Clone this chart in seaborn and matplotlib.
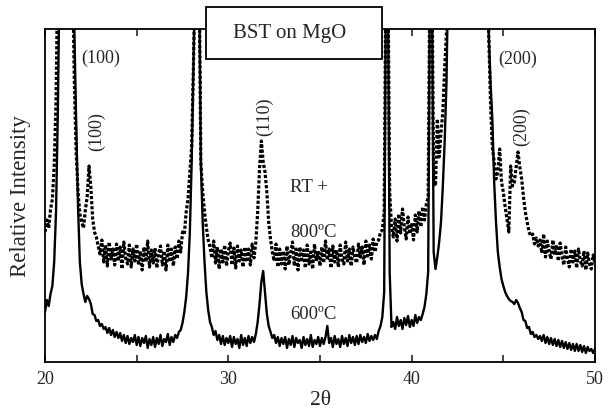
import numpy as np
import pandas as pd
import matplotlib
matplotlib.use("Agg")
import matplotlib.pyplot as plt
from matplotlib.patches import Rectangle
import seaborn as sns

# 2-theta sampling grid (degrees), 0.1 deg steps
two_theta = np.round(np.linspace(20.0, 50.0, 301), 1)

# Intensity (arbitrary units), values above 333 are off-scale
intensity_600C = [
    50, 62, 56, 68, 76, 100, 150, 250, 400, 400,        # 20
    400, 400, 400, 400, 400, 400, 330, 240, 156, 100,   # 21
    78, 68, 60, 66, 63, 58, 48, 47, 41, 42,             # 22
    36, 38, 33, 35, 29, 34, 27, 32, 25, 30,             # 23
    24, 29, 21, 27, 19, 26, 18, 24, 20, 27,             # 24
    17, 25, 16, 24, 19, 26, 14, 23, 17, 25,             # 25
    15, 24, 18, 27, 16, 23, 20, 28, 17, 25,             # 26
    20, 27, 24, 30, 32, 39, 50, 65, 89, 130,            # 27
    200, 300, 400, 400, 400, 200, 140, 100, 70, 52,     # 28
    40, 35, 27, 31, 22, 27, 18, 26, 17, 24,             # 29
    19, 26, 15, 25, 18, 23, 14, 27, 17, 24,             # 30
    16, 26, 19, 25, 20, 28, 40, 58, 80, 91,             # 31
    70, 48, 36, 30, 24, 27, 19, 25, 16, 24,             # 32
    18, 25, 14, 23, 17, 26, 15, 24, 19, 22,             # 33
    14, 25, 17, 23, 16, 27, 15, 22, 18, 25,             # 34
    16, 24, 18, 25, 36, 19, 24, 15, 26, 18,             # 35
    23, 15, 26, 18, 24, 16, 27, 19, 25, 17,             # 36
    26, 18, 27, 20, 25, 19, 28, 21, 26, 22,             # 37
    27, 23, 31, 36, 45, 70, 400, 400, 90, 35,           # 38
    40, 33, 45, 36, 42, 33, 44, 37, 46, 35,             # 39
    42, 36, 47, 39, 45, 42, 48, 55, 68, 90,             # 40
    400, 400, 110, 93, 105, 120, 140, 176, 220, 280,    # 41
    400, 400, 400, 400, 400, 400, 400, 400, 400, 400,   # 42
    400, 400, 400, 400, 400, 400, 400, 400, 400, 400,   # 43
    400, 400, 330, 280, 243, 180, 140, 110, 95, 83,     # 44
    76, 70, 66, 63, 61, 60, 58, 62, 59, 54,             # 45
    50, 42, 41, 34, 35, 28, 30, 25, 27, 23,             # 46
    26, 21, 27, 19, 25, 18, 24, 17, 23, 16,             # 47
    22, 15, 21, 14, 20, 13, 19, 12, 18, 11,             # 48
    18, 11, 17, 10, 16, 9, 15, 11, 13, 9,               # 49
    13,                                                 # 50
]

intensity_RT_800C = [
    130, 142, 134, 152, 163, 195, 260, 400, 400, 400,   # 20
    400, 400, 400, 400, 400, 400, 280, 210, 170, 148,   # 21
    140, 134, 152, 165, 196, 175, 143, 130, 125, 116,   # 22
    108, 122, 100, 117, 96, 120, 103, 113, 97, 118,     # 23
    101, 115, 93, 120, 104, 98, 117, 95, 113, 101,      # 24
    118, 97, 111, 92, 115, 100, 121, 95, 112, 99,       # 25
    114, 94, 109, 116, 97, 111, 92, 117, 100, 113,      # 26
    96, 115, 103, 121, 110, 130, 128, 150, 163, 190,    # 27
    216, 300, 400, 400, 400, 200, 170, 150, 135, 122,   # 28
    115, 104, 121, 99, 115, 93, 113, 100, 117, 96,      # 29
    111, 119, 97, 114, 94, 116, 101, 112, 95, 115,      # 30
    100, 113, 97, 118, 104, 120, 150, 193, 221, 200,    # 31
    190, 170, 140, 123, 110, 101, 118, 95, 113, 98,     # 32
    111, 93, 116, 97, 109, 120, 96, 113, 92, 115,       # 33
    100, 112, 94, 117, 98, 110, 93, 118, 101, 111,      # 34
    96, 115, 99, 121, 102, 113, 94, 116, 100, 112,      # 35
    95, 117, 103, 98, 120, 101, 113, 96, 115, 104,      # 36
    99, 118, 105, 115, 97, 121, 106, 117, 103, 123,     # 37
    110, 120, 122, 130, 132, 150, 400, 400, 170, 135,   # 38
    125, 143, 121, 148, 129, 153, 135, 123, 145, 128,   # 39
    139, 122, 147, 130, 151, 135, 155, 142, 158, 165,   # 40
    400, 400, 180, 176, 243, 205, 230, 250, 293, 330,   # 41
    400, 400, 400, 400, 400, 400, 400, 400, 400, 400,   # 42
    400, 400, 400, 400, 400, 400, 400, 400, 400, 400,   # 43
    400, 400, 330, 260, 215, 200, 183, 190, 213, 180,   # 44
    170, 155, 143, 130, 196, 176, 180, 195, 210, 195,   # 45
    183, 165, 150, 140, 130, 126, 128, 118, 124, 116,   # 46
    122, 109, 128, 105, 121, 110, 103, 122, 107, 117,   # 47
    101, 119, 106, 97, 115, 103, 95, 113, 100, 111,     # 48
    94, 113, 101, 96, 111, 92, 109, 98, 93, 107,        # 49
    100,                                                # 50
]

xtick_values = [20, 30, 40, 50]
minor_tick_values = [25, 35, 45]

sns.set_style("white")
plt.rcParams["font.family"] = ["Liberation Serif", "DejaVu Serif"]

df = pd.DataFrame({
    "two_theta": np.concatenate([two_theta, two_theta]),
    "intensity": intensity_600C + intensity_RT_800C,
    "sample": ["600C"] * len(two_theta) + ["RT800C"] * len(two_theta),
})

fig = plt.figure(figsize=(6.1, 4.14), dpi=100)
ax = fig.add_axes([0.0738, 0.1232, 0.9016, 0.8043])

sns.lineplot(data=df[df["sample"] == "600C"], x="two_theta", y="intensity",
             ax=ax, color="black", linewidth=1.7, linestyle="-")
sns.lineplot(data=df[df["sample"] == "RT800C"], x="two_theta", y="intensity",
             ax=ax, color="black", linewidth=2.3, linestyle=(0, (1, 0.6)))

ax.set_xlim(20, 50)
ax.set_ylim(0, 333)
ax.set_xticks(xtick_values)
ax.set_xticks(minor_tick_values, minor=True)
ax.set_xticklabels([str(v) for v in xtick_values], fontsize=13)
ax.set_yticks([])
ax.tick_params(axis="x", which="both", direction="in", top=True, bottom=True,
               length=5, width=1.2, pad=6)
for s in ax.spines.values():
    s.set_linewidth(1.3)
    s.set_color("black")

ax.set_xlabel("2θ", fontsize=15.5, labelpad=2)
ax.set_ylabel("Relative Intensity", fontsize=16.5, labelpad=10)

# peak annotations
ax.text(23.05, 305, "(100)", fontsize=13, ha="center", va="center")
ax.text(22.84, 231, "(100)", fontsize=13, ha="center", va="center", rotation=90)
ax.text(32.0, 246, "(110)", fontsize=13, ha="center", va="center", rotation=90)
ax.text(45.8, 304, "(200)", fontsize=13, ha="center", va="center")
ax.text(46.02, 236, "(200)", fontsize=13, ha="center", va="center", rotation=90)
ax.text(33.37, 176, "RT +", fontsize=13.5, ha="left", va="center")
ax.text(33.37, 131, "800ºC", fontsize=13.5, ha="left", va="center")
ax.text(33.37, 48, "600ºC", fontsize=13.5, ha="left", va="center")

# title box
rect = Rectangle((0.3377, 0.855), 0.2885, 0.1256, transform=fig.transFigure,
                 facecolor="white", edgecolor="black", linewidth=1.3, zorder=10)
fig.patches.append(rect)
fig.text(0.4754, 0.9179, "BST on MgO", fontsize=15, ha="center", va="center", zorder=11)

fig.savefig("out.png", dpi=100)
